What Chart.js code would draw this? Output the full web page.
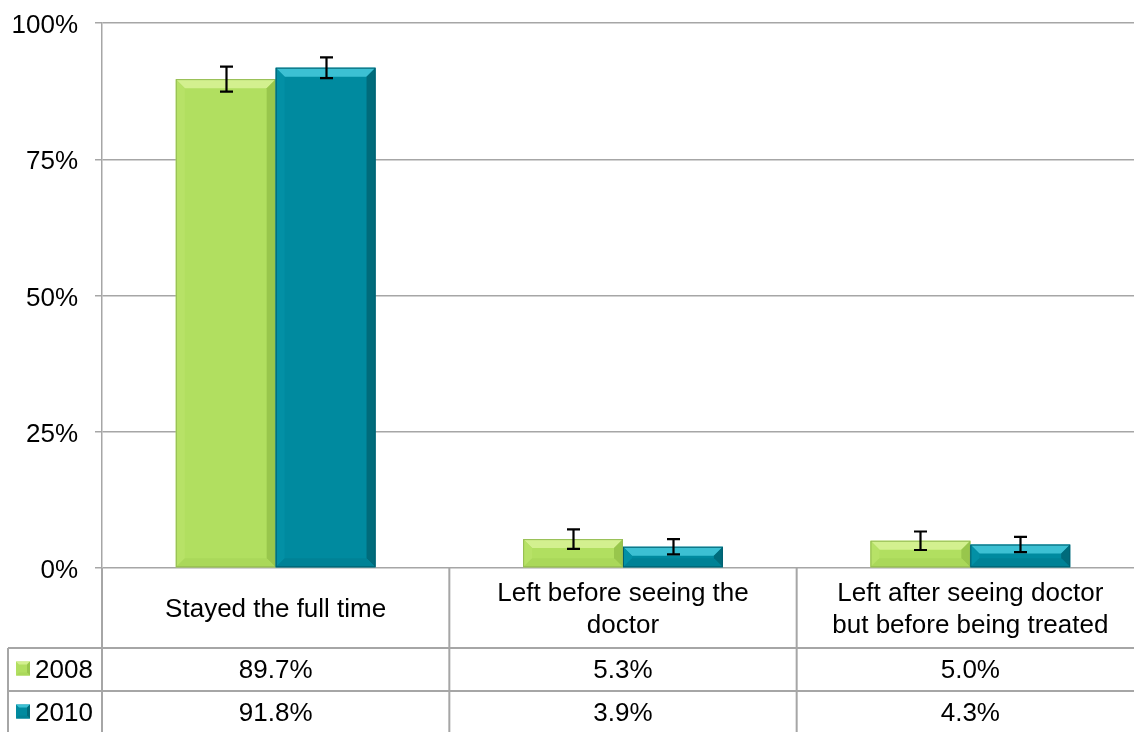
<!DOCTYPE html>
<html>
<head>
<meta charset="utf-8">
<script src="https://cdn.jsdelivr.net/npm/chart.js@4"></script>
<style>
html,body{margin:0;padding:0;background:#fff;overflow:hidden;width:1134px;height:732px;}
#wrap{position:relative;width:1146px;height:732px;}
</style>
</head>
<body>
<div id="wrap"><canvas id="c" width="1146" height="732"></canvas></div>
<script>
const categories = [["Stayed the full time"], ["Left before seeing the", "doctor"], ["Left after seeing doctor", "but before being treated"]];
const seriesNames = ["2008", "2010"];
const values2008 = [89.7, 5.3, 5.0];
const values2010 = [91.8, 3.9, 4.3];
const err2008 = [2.3, 1.8, 1.7];
const err2010 = [1.9, 1.4, 1.4];
const tableLabels2008 = ["89.7%", "5.3%", "5.0%"];
const tableLabels2010 = ["91.8%", "3.9%", "4.3%"];

const FONT = '"Liberation Sans", Arial, sans-serif';
const FS = 26;
const styles = [
  {base:'#b1df60', top:'#d3f08f', left:'#b7e267', right:'#98c64c', bottom:'#aad85a', border:'#94bb52'},
  {base:'#008a9f', top:'#3cc0d3', left:'#0390a5', right:'#006b7b', bottom:'#008296', border:'#006070'}
];
const errs = [err2008, err2010];

const bevelPlugin = {
  id: 'bevel',
  afterDatasetsDraw(chart) {
    const ctx = chart.ctx;
    chart.data.datasets.forEach((ds, di) => {
      const meta = chart.getDatasetMeta(di);
      const st = styles[di];
      meta.data.forEach((bar) => {
        const p = bar.getProps(['x','y','base','width'], true);
        const x0 = p.x - p.width/2, x1 = p.x + p.width/2;
        const y0 = p.y, y1 = p.base;
        const h = y1 - y0;
        const b = Math.min(9, h/2, p.width/2);
        ctx.save();
        ctx.fillStyle = st.base;
        ctx.fillRect(x0, y0, x1-x0, h);
        const poly = (pts, c) => { ctx.beginPath(); ctx.moveTo(pts[0][0], pts[0][1]); for (let i=1;i<pts.length;i++) ctx.lineTo(pts[i][0], pts[i][1]); ctx.closePath(); ctx.fillStyle = c; ctx.fill(); };
        poly([[x0,y0],[x1,y0],[x1-b,y0+b],[x0+b,y0+b]], st.top);
        poly([[x0,y0],[x0+b,y0+b],[x0+b,y1-b],[x0,y1]], st.left);
        poly([[x1,y0],[x1-b,y0+b],[x1-b,y1-b],[x1,y1]], st.right);
        poly([[x0,y1],[x0+b,y1-b],[x1-b,y1-b],[x1,y1]], st.bottom);
        ctx.strokeStyle = st.border;
        ctx.lineWidth = 1;
        ctx.strokeRect(x0+0.5, y0+0.5, x1-x0-1, h-1);
        ctx.restore();
      });
    });
    const ys = chart.scales.y;
    chart.data.datasets.forEach((ds, di) => {
      const meta = chart.getDatasetMeta(di);
      meta.data.forEach((bar, i) => {
        const v = ds.data[i], e = errs[di][i];
        const yt = ys.getPixelForValue(v + e), yb = ys.getPixelForValue(v - e);
        const x = Math.round(bar.x) + 0.5;
        ctx.save();
        ctx.strokeStyle = '#000';
        ctx.lineWidth = 2.2;
        ctx.beginPath();
        ctx.moveTo(x, yt); ctx.lineTo(x, yb);
        ctx.moveTo(x-6.5, yt); ctx.lineTo(x+6.5, yt);
        ctx.moveTo(x-6.5, yb); ctx.lineTo(x+6.5, yb);
        ctx.stroke();
        ctx.restore();
      });
    });
  }
};

const tablePlugin = {
  id: 'dataTable',
  afterDraw(chart) {
    const ctx = chart.ctx;
    const xs = chart.scales.x;
    const area = chart.chartArea;
    const n = categories.length;
    const cw = (area.right - area.left) / n;
    const top = area.bottom, r1 = 648, r2 = 691, bot = 740;
    const leftT = 8;
    ctx.save();
    ctx.strokeStyle = '#a6a6a6';
    ctx.lineWidth = 2;
    ctx.beginPath();
    for (let i = 0; i <= n; i++) {
      const x = area.left + i * cw;
      ctx.moveTo(x, top); ctx.lineTo(x, bot);
    }
    ctx.moveTo(leftT, r1); ctx.lineTo(leftT, bot);
    ctx.moveTo(leftT, r1); ctx.lineTo(area.right, r1);
    ctx.moveTo(leftT, r2); ctx.lineTo(area.right, r2);
    ctx.stroke();
    ctx.fillStyle = '#000';
    ctx.font = FS + 'px ' + FONT;
    ctx.textAlign = 'center';
    ctx.textBaseline = 'middle';
    const rowsY = [(r1 + r2) / 2 + 1, (r2 + 732) / 2 + 2];
    categories.forEach((lines, i) => {
      const cx = xs.getPixelForValue(i);
      const mid = (top + r1) / 2 + 2;
      const lh = 32;
      lines.forEach((t, j) => {
        ctx.fillText(t, cx, mid + (j - (lines.length - 1) / 2) * lh);
      });
      ctx.fillText(tableLabels2008[i], cx, rowsY[0]);
      ctx.fillText(tableLabels2010[i], cx, rowsY[1]);
    });
    ctx.textAlign = 'left';
    seriesNames.forEach((name, di) => {
      const st = styles[di];
      const kx = 16, ky = rowsY[di] - 9, k = 14, b = 3;
      ctx.fillStyle = st.base; ctx.fillRect(kx, ky, k, k);
      const poly = (pts, c) => { ctx.beginPath(); ctx.moveTo(pts[0][0], pts[0][1]); for (let i=1;i<pts.length;i++) ctx.lineTo(pts[i][0], pts[i][1]); ctx.closePath(); ctx.fillStyle = c; ctx.fill(); };
      poly([[kx,ky],[kx+k,ky],[kx+k-b,ky+b],[kx+b,ky+b]], st.top);
      poly([[kx+k,ky],[kx+k-b,ky+b],[kx+k-b,ky+k-b],[kx+k,ky+k]], st.right);
      poly([[kx,ky+k],[kx+b,ky+k-b],[kx+k-b,ky+k-b],[kx+k,ky+k]], st.bottom);
      ctx.fillStyle = '#000';
      ctx.fillText(name, 35, rowsY[di]);
    });
    ctx.restore();
  }
};

new Chart(document.getElementById('c'), {
  type: 'bar',
  data: {
    labels: categories.map(l => l.join(' ')),
    datasets: [
      { label: seriesNames[0], data: values2008, backgroundColor: 'rgba(0,0,0,0)', borderWidth: 0 },
      { label: seriesNames[1], data: values2010, backgroundColor: 'rgba(0,0,0,0)', borderWidth: 0 }
    ]
  },
  options: {
    responsive: false,
    animation: false,
    events: [],
    layout: { padding: { top: 23, right: 2, bottom: 164, left: 0 } },
    plugins: { legend: { display: false }, tooltip: { enabled: false } },
    datasets: { bar: { categoryPercentage: 0.575, barPercentage: 1.0 } },
    scales: {
      x: { display: false },
      y: {
        min: 0, max: 100,
        afterFit(s) { s.width = 102; s.paddingTop = 0; s.paddingBottom = 0; },
        ticks: { stepSize: 25, callback: v => v + '%', color: '#000', font: { family: FONT, size: FS }, padding: 17, labelOffset: 3 },
        grid: { color: '#a6a6a6', lineWidth: 1.5, tickLength: 7, drawTicks: true },
        border: { color: '#a6a6a6', width: 1.5 }
      }
    }
  },
  plugins: [bevelPlugin, tablePlugin]
});
</script>
</body>
</html>
